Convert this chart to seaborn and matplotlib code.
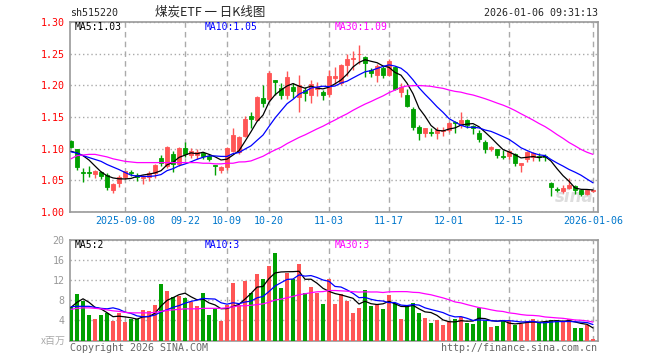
import numpy as np
import pandas as pd
import matplotlib
matplotlib.use("Agg")
import matplotlib.pyplot as plt
import seaborn as sns

# daily K data (price in yuan, volume in millions)
open_px = [1.112, 1.099, 1.063, 1.063, 1.060, 1.063, 1.059, 1.034, 1.046, 1.056,
           1.063, 1.058, 1.053, 1.056, 1.062, 1.086, 1.072, 1.092, 1.076, 1.101,
           1.090, 1.090, 1.093, 1.088, 1.074, 1.067, 1.071, 1.096, 1.094, 1.120,
           1.151, 1.146, 1.180, 1.178, 1.208, 1.195, 1.184, 1.197, 1.181, 1.192,
           1.184, 1.195, 1.190, 1.186, 1.211, 1.203, 1.232, 1.242, 1.249, 1.245,
           1.225, 1.216, 1.227, 1.217, 1.229, 1.190, 1.185, 1.163, 1.134, 1.124,
           1.126, 1.125, 1.128, 1.129, 1.142, 1.137, 1.146, 1.135, 1.125, 1.110,
           1.100, 1.099, 1.089, 1.088, 1.091, 1.075, 1.083, 1.087, 1.088, 1.088,
           1.046, 1.036, 1.033, 1.038, 1.041, 1.034, 1.029, 1.033]
high_px = [1.114, 1.100, 1.069, 1.073, 1.066, 1.065, 1.062, 1.046, 1.058, 1.065,
           1.067, 1.061, 1.058, 1.065, 1.076, 1.090, 1.104, 1.097, 1.103, 1.110,
           1.101, 1.100, 1.095, 1.091, 1.075, 1.073, 1.102, 1.132, 1.120, 1.152,
           1.158, 1.183, 1.200, 1.222, 1.208, 1.203, 1.223, 1.204, 1.216, 1.197,
           1.208, 1.206, 1.192, 1.224, 1.229, 1.234, 1.250, 1.255, 1.263, 1.247,
           1.228, 1.234, 1.230, 1.242, 1.231, 1.203, 1.195, 1.166, 1.137, 1.133,
           1.132, 1.134, 1.134, 1.142, 1.143, 1.158, 1.147, 1.137, 1.129, 1.113,
           1.104, 1.100, 1.098, 1.098, 1.093, 1.078, 1.096, 1.095, 1.093, 1.092,
           1.047, 1.039, 1.042, 1.053, 1.042, 1.037, 1.036, 1.035]
low_px = [1.101, 1.067, 1.048, 1.055, 1.053, 1.052, 1.034, 1.030, 1.039, 1.052,
          1.057, 1.049, 1.044, 1.049, 1.054, 1.072, 1.070, 1.063, 1.073, 1.087,
          1.086, 1.083, 1.084, 1.081, 1.058, 1.062, 1.066, 1.094, 1.092, 1.118,
          1.133, 1.144, 1.166, 1.176, 1.184, 1.179, 1.179, 1.180, 1.158, 1.175,
          1.172, 1.183, 1.177, 1.182, 1.202, 1.200, 1.215, 1.224, 1.234, 1.213,
          1.213, 1.206, 1.212, 1.215, 1.193, 1.182, 1.166, 1.129, 1.113, 1.118,
          1.120, 1.116, 1.120, 1.126, 1.125, 1.132, 1.132, 1.123, 1.111, 1.093,
          1.096, 1.086, 1.083, 1.084, 1.072, 1.063, 1.079, 1.081, 1.081, 1.080,
          1.026, 1.031, 1.030, 1.036, 1.029, 1.025, 1.027, 1.032]
close_px = [1.103, 1.071, 1.062, 1.062, 1.065, 1.057, 1.040, 1.045, 1.055, 1.064,
            1.061, 1.056, 1.056, 1.062, 1.074, 1.078, 1.102, 1.076, 1.101, 1.092,
            1.096, 1.095, 1.088, 1.084, 1.073, 1.071, 1.101, 1.121, 1.118, 1.147,
            1.147, 1.181, 1.172, 1.220, 1.205, 1.185, 1.213, 1.191, 1.200, 1.188,
            1.202, 1.197, 1.185, 1.214, 1.214, 1.232, 1.242, 1.243, 1.250, 1.235,
            1.220, 1.231, 1.217, 1.239, 1.195, 1.198, 1.168, 1.134, 1.125, 1.132,
            1.124, 1.130, 1.129, 1.140, 1.141, 1.146, 1.138, 1.133, 1.115, 1.099,
            1.102, 1.090, 1.087, 1.096, 1.077, 1.077, 1.095, 1.093, 1.087, 1.087,
            1.040, 1.035, 1.038, 1.043, 1.034, 1.029, 1.034, 1.034]
volume = [6.7, 9.2, 7.8, 5.0, 4.3, 5.1, 5.5, 3.8, 5.5, 3.6,
          4.2, 4.2, 6.0, 5.8, 7.0, 11.3, 9.8, 8.7, 8.8, 8.5,
          7.7, 6.8, 9.4, 5.0, 6.5, 3.9, 7.0, 11.5, 7.0, 11.8,
          9.5, 13.3, 12.2, 14.8, 17.4, 10.5, 13.5, 12.3, 15.2, 9.4,
          10.6, 9.5, 7.2, 12.2, 7.2, 9.3, 7.8, 5.5, 6.5, 10.0,
          6.8, 7.0, 6.2, 9.0, 7.5, 4.2, 6.8, 7.5, 5.5, 4.5,
          3.5, 4.0, 3.0, 3.7, 4.3, 4.7, 3.5, 3.2, 6.5, 3.9,
          2.7, 2.9, 3.9, 3.9, 3.1, 3.3, 3.8, 4.3, 3.7, 3.7,
          4.0, 4.0, 3.8, 4.2, 2.5, 2.5, 3.1, 0.2]

# moving-average values before enough in-window history exists
ma5_head = [1.096, 1.093, 1.089, 1.082]
ma10_head = [1.095, 1.093, 1.089, 1.086, 1.083, 1.080, 1.075, 1.071, 1.067]
ma30_head = [1.084, 1.089, 1.090, 1.091, 1.091, 1.089, 1.087, 1.084, 1.082, 1.080,
             1.079, 1.078, 1.078, 1.078, 1.078, 1.078, 1.078, 1.078, 1.078, 1.078,
             1.078, 1.078, 1.077, 1.077, 1.076, 1.076, 1.077, 1.077, 1.079]
vma5_head = [6.6, 7.6, 8.3, 7.6]
vma10_head = [6.7, 6.8, 6.8, 6.8, 6.6, 6.4, 6.3, 6.5, 6.2]
vma30_head = [6.2, 6.4, 6.5, 6.5, 6.4, 6.3, 6.1, 5.9, 5.8, 5.6,
              5.5, 5.5, 5.5, 5.5, 5.6, 5.8, 6.0, 6.1, 6.2, 6.3,
              6.3, 6.3, 6.4, 6.4, 6.4, 6.4, 6.5, 6.7, 6.9]

holidays = ["2025-10-01", "2025-10-02", "2025-10-03", "2025-10-06", "2025-10-07",
            "2025-10-08", "2026-01-01", "2026-01-02"]
tick_dates = ["2025-09-08", "2025-09-22", "2025-10-09", "2025-10-20", "2025-11-03",
              "2025-11-17", "2025-12-01", "2025-12-15", "2026-01-06"]
tick_labels = ["2025-09-08", "09-22", "10-09", "10-20", "11-03",
               "11-17", "12-01", "12-15", "2026-01-06"]
price_ticks = [1.00, 1.05, 1.10, 1.15, 1.20, 1.25, 1.30]
vol_ticks = [4, 8, 12, 16, 20]

RED = "#ff5555"
GREEN = "#00a000"
GRID = "#aaaaaa"
MONO = "DejaVu Sans Mono"

dates = pd.bdate_range("2025-08-26", "2026-01-06", freq="C", holidays=holidays)
df = pd.DataFrame({"open": open_px, "high": high_px, "low": low_px,
                   "close": close_px, "vol": volume}, index=dates)
df["i"] = np.arange(len(df))
up = df["close"] >= df["open"]
colors = np.where(up, RED, GREEN)


def moving_avg(s, n, head):
    m = s.rolling(n).mean().to_numpy()
    m[: len(head)] = head
    return m


df["ma5"] = moving_avg(df["close"], 5, ma5_head)
df["ma10"] = moving_avg(df["close"], 10, ma10_head)
df["ma30"] = moving_avg(df["close"], 30, ma30_head)
df["vma5"] = moving_avg(df["vol"], 5, vma5_head)
df["vma10"] = moving_avg(df["vol"], 10, vma10_head)
df["vma30"] = moving_avg(df["vol"], 30, vma30_head)

tick_pos = [dates.get_loc(pd.Timestamp(d)) for d in tick_dates]

sns.set_style("white")
plt.rcParams["font.family"] = [MONO, "Noto Sans CJK SC"]

W, H = 660, 360
fig = plt.figure(figsize=(W / 100, H / 100), dpi=100)
ax = fig.add_axes([70 / W, 1 - 212 / H, 527.5 / W, 190 / H])
axv = fig.add_axes([70 / W, 1 - 340.5 / H, 527.5 / W, 100.5 / H])
xlim = (-0.17, len(df) - 0.25)

# candles
ax.vlines(df["i"], df["low"], df["high"], colors=colors, lw=1, zorder=3)
ax.bar(df["i"], (df["close"] - df["open"]).abs(),
       bottom=df[["open", "close"]].min(axis=1), width=0.8,
       color=colors, edgecolor=colors, linewidth=0.6, zorder=4)
sns.lineplot(x=df["i"], y=df["ma5"], color="black", lw=0.9, ax=ax, zorder=5)
sns.lineplot(x=df["i"], y=df["ma10"], color="#0000ff", lw=0.9, ax=ax, zorder=5)
sns.lineplot(x=df["i"], y=df["ma30"], color="#ff00ff", lw=0.9, ax=ax, zorder=5)

# volume
axv.bar(df["i"], df["vol"], width=0.8, color=colors, linewidth=0, zorder=3)
sns.lineplot(x=df["i"], y=df["vma5"], color="black", lw=0.9, ax=axv, zorder=5)
sns.lineplot(x=df["i"], y=df["vma10"], color="#0000ff", lw=0.9, ax=axv, zorder=5)
sns.lineplot(x=df["i"], y=df["vma30"], color="#ff00ff", lw=0.9, ax=axv, zorder=5)

for a in (ax, axv):
    a.set_xlim(*xlim)
    a.set_xlabel("")
    a.set_ylabel("")
    a.set_xticks(tick_pos)
    a.xaxis.grid(True, color=GRID, ls=(0, (4, 3)), lw=1)
    a.yaxis.grid(True, color=GRID, ls=(0, (1, 2)), lw=1)
    a.set_axisbelow(True)
    for sp in a.spines.values():
        sp.set_color("#999999")
        sp.set_linewidth(1.2)

ax.set_ylim(1.00, 1.30)
ax.set_yticks(price_ticks)
ax.set_yticklabels([f"{t:.2f}" for t in price_ticks])
ax.set_xticklabels(tick_labels)
ax.tick_params(axis="y", length=0, pad=4, labelcolor="#ff0000", labelsize=7.2)
ax.tick_params(axis="x", length=0, pad=3, labelcolor="#0077cc", labelsize=7.2)

axv.set_ylim(0, 20)
axv.set_yticks(vol_ticks)
axv.set_yticklabels([str(t) for t in vol_ticks])
axv.set_xticklabels([])
axv.tick_params(axis="y", length=0, pad=4, labelcolor="#999999", labelsize=7.2)
axv.tick_params(axis="x", length=0)

# header texts
last = df.iloc[-1]
fig.text(70 / W, 1 - 12.5 / H, "sh515220", fontsize=7.2, va="center", ha="left")
fig.text(210 / W, 1 - 12.5 / H, "煤炭ETF 一 日K线图", fontsize=9,
         va="center", ha="center", family=["Noto Sans CJK SC", MONO])
fig.text(597.5 / W, 1 - 12.5 / H, "2026-01-06 09:31:13", fontsize=7.2,
         va="center", ha="right")

fig.text(75 / W, 1 - 22.5 / H, f"MA5:{last['ma5']:.2f}", fontsize=7, va="top",
         color="black")
fig.text(205 / W, 1 - 22.5 / H, f"MA10:{last['ma10']:.2f}", fontsize=7, va="top",
         color="#0000ff")
fig.text(335 / W, 1 - 22.5 / H, f"MA30:{last['ma30']:.2f}", fontsize=7, va="top",
         color="#ff00ff")

fig.text(75 / W, 1 - 240.5 / H, f"MA5:{int(last['vma5'])}", fontsize=7, va="top",
         color="black")
fig.text(205 / W, 1 - 240.5 / H, f"MA10:{int(last['vma10'])}", fontsize=7, va="top",
         color="#0000ff")
fig.text(335 / W, 1 - 240.5 / H, f"MA30:{int(last['vma30'])}", fontsize=7, va="top",
         color="#ff00ff")

fig.text(66 / W, 1 - 341 / H, "x百万", fontsize=7.2, va="center", ha="right",
         color="#aaaaaa", family=["Noto Sans CJK SC", MONO])
fig.text(70 / W, 1 - 348 / H, "Copyright 2026 SINA.COM", fontsize=7.2,
         va="center", ha="left", color="#666666")
fig.text(597.5 / W, 1 - 348 / H, "http://finance.sina.com.cn", fontsize=7.2,
         va="center", ha="right", color="#666666")
ax.text(0.955, 0.08, "sina", transform=ax.transAxes, fontsize=12, style="italic",
        fontweight="bold", color="#dddddd", ha="center", va="center",
        family="DejaVu Sans", zorder=1)

fig.savefig("out.png", dpi=100)
